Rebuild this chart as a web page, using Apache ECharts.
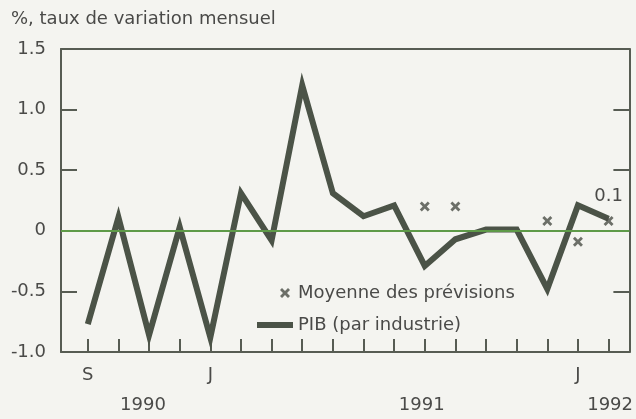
<!DOCTYPE html>
<html>
<head>
<meta charset="utf-8">
<script src="https://cdn.jsdelivr.net/npm/echarts@6/dist/echarts.min.js"></script>
<style>
  html, body { margin: 0; padding: 0; background: #f4f4f0; }
  #chart { width: 636px; height: 419px; }
</style>
</head>
<body>
<div id="chart"></div>
<script>
// mois de sept. 1990 a fev. 1992
var mois = ['1990-09', '1990-10', '1990-11', '1990-12', '1991-01', '1991-02', '1991-03', '1991-04', '1991-05',
  '1991-06', '1991-07', '1991-08', '1991-09', '1991-10', '1991-11', '1991-12', '1992-01', '1992-02']
var pib = [-0.77, 0.11, -0.86, 0.03, -0.88, 0.31, -0.08, 1.2, 0.31, 0.12, 0.21, -0.29, -0.07, 0.01, 0.01, -0.48, 0.21, 0.1]
// moyenne des previsions (index du mois, valeur)
var prevMois = [11, 12, 15, 16, 17]
var prevValeurs = [0.2, 0.2, 0.08, -0.09, 0.08]
var moisLabels = { 0: 'S', 4: 'J', 16: 'J' }
var anneePos = [1.8, 10.9, 17.05]
var anneeLabels = ['1990', '1991', '1992']

var textColor = '#4a4a48'
var frameColor = '#575c53'
var font = 'DejaVu Sans'
var xMark = 'path://M0,2L2,0L5,3L8,0L10,2L7,5L10,8L8,10L5,7L2,10L0,8L3,5Z'

var pibData = pib.map(function (v, i) {
  if (i === pib.length - 1) {
    return {
      value: [i, v],
      symbol: 'circle',
      symbolSize: 1,
      label: {
        show: true,
        position: 'top',
        distance: 13,
        formatter: function (p) { return p.value[1].toFixed(1) },
        color: textColor,
        fontFamily: font,
        fontSize: 18
      }
    }
  }
  return [i, v]
})
var prevData = prevMois.map(function (m, k) { return [m, prevValeurs[k]] })

var dom = echarts.init(document.getElementById('chart'))
var xBase = { type: 'value', min: -0.875, max: 17.68, splitLine: { show: false } }
var option = {
  backgroundColor: '#f4f4f0',
  animation: false,
  title: {
    text: '%, taux de variation mensuel',
    left: 6,
    top: 5,
    textStyle: { color: textColor, fontFamily: font, fontSize: 18, fontWeight: 'normal' }
  },
  legend: [
    {
      data: ['Moyenne des prévisions'],
      left: 275,
      top: 279,
      itemWidth: 10,
      itemHeight: 10,
      itemGap: 6,
      textStyle: { color: textColor, fontFamily: font, fontSize: 18, padding: [0, 0, 0, 3] }
    },
    {
      data: [{ name: 'PIB (par industrie)', icon: 'rect' }],
      left: 252,
      top: 311,
      itemWidth: 36,
      itemHeight: 6,
      textStyle: { color: textColor, fontFamily: font, fontSize: 18 }
    }
  ],
  grid: { left: 61, right: 3, top: 49, bottom: 67 },
  xAxis: [
    Object.assign({}, xBase, {
      position: 'bottom',
      axisLine: { show: true, onZero: false, lineStyle: { color: frameColor, width: 2 } },
      axisTick: {
        show: true,
        inside: true,
        length: 13,
        customValues: mois.map(function (m, i) { return i }),
        lineStyle: { color: frameColor, width: 2 }
      },
      axisLabel: {
        show: true,
        margin: 14,
        customValues: Object.keys(moisLabels).map(Number),
        formatter: function (v) { return moisLabels[v] || '' },
        color: textColor,
        fontFamily: font,
        fontSize: 18
      }
    }),
    Object.assign({}, xBase, {
      position: 'top',
      axisLine: { show: true, onZero: false, lineStyle: { color: frameColor, width: 2 } },
      axisTick: { show: false },
      axisLabel: { show: false }
    }),
    Object.assign({}, xBase, {
      position: 'bottom',
      axisLine: { show: false, onZero: false },
      axisTick: { show: false },
      axisLabel: {
        show: true,
        margin: 44,
        customValues: anneePos,
        formatter: function (v) { return anneeLabels[anneePos.indexOf(v)] || '' },
        color: textColor,
        fontFamily: font,
        fontSize: 18
      }
    })
  ],
  yAxis: [
    {
      type: 'value',
      min: -1,
      max: 1.5,
      interval: 0.5,
      position: 'left',
      axisLine: { show: true, onZero: false, lineStyle: { color: frameColor, width: 2 } },
      axisTick: { show: true, inside: true, length: 16, lineStyle: { color: frameColor, width: 2 } },
      axisLabel: {
        margin: 15,
        color: textColor,
        fontFamily: font,
        fontSize: 18,
        formatter: function (v) { return v === 0 ? '0' : v.toFixed(1) }
      },
      splitLine: { show: false }
    },
    {
      type: 'value',
      min: -1,
      max: 1.5,
      interval: 0.5,
      position: 'right',
      axisLine: { show: true, onZero: false, lineStyle: { color: frameColor, width: 2 } },
      axisTick: { show: true, inside: true, length: 16, lineStyle: { color: frameColor, width: 2 } },
      axisLabel: { show: false },
      splitLine: { show: false }
    }
  ],
  series: [
    {
      name: 'zero',
      type: 'line',
      data: [],
      z: 1,
      markLine: {
        silent: true,
        symbol: 'none',
        label: { show: false },
        lineStyle: { color: '#5e9a48', width: 2, type: 'solid' },
        data: [{ yAxis: 0 }]
      }
    },
    {
      name: 'PIB (par industrie)',
      type: 'line',
      data: pibData,
      symbol: 'none',
      z: 3,
      lineStyle: { color: '#4b5347', width: 6, join: 'miter' },
      itemStyle: { color: '#4b5347' }
    },
    {
      name: 'Moyenne des prévisions',
      type: 'scatter',
      data: prevData,
      symbol: xMark,
      symbolSize: 10,
      z: 4,
      itemStyle: { color: '#4a4e46' }
    }
  ]
}
dom.setOption(option)
</script>
</body>
</html>
